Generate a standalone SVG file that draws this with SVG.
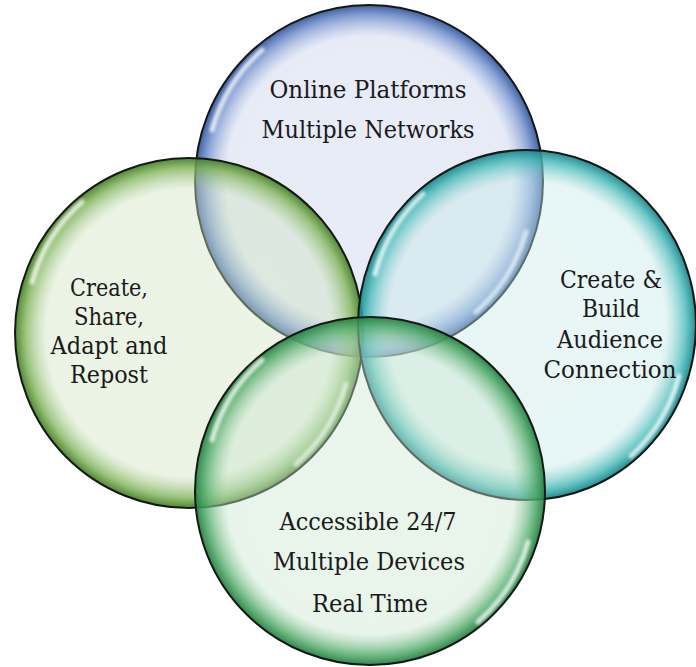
<svg xmlns="http://www.w3.org/2000/svg" width="696" height="667" viewBox="0 0 696 667">
<defs>
<style>
.ring{stroke:#151815;stroke-width:2}
.hl{fill:none;stroke:#ffffff;stroke-width:5;stroke-linecap:round;opacity:0.75;filter:url(#blur)}
text{font-family:'DejaVu Serif','Liberation Serif',serif;font-size:25px;fill:#1a1a1a;text-anchor:middle}
</style>
<filter id="blur" x="-20%" y="-20%" width="140%" height="140%"><feGaussianBlur stdDeviation="1.6"/></filter>
<radialGradient id="gBlue" cx="50%" cy="50%" r="50%">
<stop offset="0" stop-color="#c5d0ea" stop-opacity="0.4"/>
<stop offset="0.82" stop-color="#c5d0ea" stop-opacity="0.42"/>
<stop offset="0.94" stop-color="#6a8acb" stop-opacity="0.8"/>
<stop offset="1" stop-color="#34579a" stop-opacity="0.95"/>
</radialGradient>
<radialGradient id="gLeft" cx="50%" cy="50%" r="50%">
<stop offset="0" stop-color="#cfe3c0" stop-opacity="0.4"/>
<stop offset="0.82" stop-color="#cfe3c0" stop-opacity="0.42"/>
<stop offset="0.94" stop-color="#80b45a" stop-opacity="0.8"/>
<stop offset="1" stop-color="#467f28" stop-opacity="0.95"/>
</radialGradient>
<radialGradient id="gTeal" cx="50%" cy="50%" r="50%">
<stop offset="0" stop-color="#c5e8e8" stop-opacity="0.4"/>
<stop offset="0.82" stop-color="#c5e8e8" stop-opacity="0.42"/>
<stop offset="0.94" stop-color="#46bab8" stop-opacity="0.8"/>
<stop offset="1" stop-color="#1a858b" stop-opacity="0.95"/>
</radialGradient>
<radialGradient id="gBottom" cx="50%" cy="50%" r="50%">
<stop offset="0" stop-color="#cae6cf" stop-opacity="0.4"/>
<stop offset="0.82" stop-color="#cae6cf" stop-opacity="0.42"/>
<stop offset="0.94" stop-color="#52ac6b" stop-opacity="0.8"/>
<stop offset="1" stop-color="#267f42" stop-opacity="0.95"/>
</radialGradient>
</defs>
<rect width="696" height="667" fill="#ffffff"/>

<g id="node-online">
<ellipse class="ring" cx="369" cy="181" rx="174" ry="176" fill="url(#gBlue)"/>
<path class="hl" d="M 212 130 A 164 166 0 0 1 262 50"/>
<path class="hl" d="M 526 232 A 164 166 0 0 1 476 312"/>
<text x="368" y="98" textLength="197" lengthAdjust="spacingAndGlyphs">Online Platforms</text>
<text x="368" y="138" textLength="213" lengthAdjust="spacingAndGlyphs">Multiple Networks</text>
</g>

<g id="node-create">
<ellipse class="ring" cx="189" cy="333" rx="174" ry="175" fill="url(#gLeft)"/>
<path class="hl" d="M 32 282 A 164 165 0 0 1 82 202"/>
<path class="hl" d="M 346 384 A 164 165 0 0 1 296 464"/>
<text x="109" y="296" textLength="78" lengthAdjust="spacingAndGlyphs">Create,</text>
<text x="109" y="325" textLength="70" lengthAdjust="spacingAndGlyphs">Share,</text>
<text x="109" y="354" textLength="117" lengthAdjust="spacingAndGlyphs">Adapt and</text>
<text x="109" y="383" textLength="78" lengthAdjust="spacingAndGlyphs">Repost</text>
</g>

<g id="node-audience">
<ellipse class="ring" cx="527" cy="325" rx="169" ry="175" fill="url(#gTeal)"/>
<path class="hl" d="M 375 274 A 159 165 0 0 1 423 194"/>
<path class="hl" d="M 679 376 A 159 165 0 0 1 631 456"/>
<text x="611" y="288" textLength="102" lengthAdjust="spacingAndGlyphs">Create &amp;</text>
<text x="611" y="317" textLength="58" lengthAdjust="spacingAndGlyphs">Build</text>
<text x="610" y="348" textLength="106" lengthAdjust="spacingAndGlyphs">Audience</text>
<text x="610" y="378" textLength="133" lengthAdjust="spacingAndGlyphs">Connection</text>
</g>

<g id="node-accessible">
<ellipse class="ring" cx="370" cy="491" rx="175" ry="174" fill="url(#gBottom)"/>
<path class="hl" d="M 212 440 A 165 164 0 0 1 262 360"/>
<path class="hl" d="M 528 542 A 165 164 0 0 1 478 622"/>
<text x="368" y="530" textLength="177" lengthAdjust="spacingAndGlyphs">Accessible 24/7</text>
<text x="369" y="570" textLength="192" lengthAdjust="spacingAndGlyphs">Multiple Devices</text>
<text x="370" y="612" textLength="116" lengthAdjust="spacingAndGlyphs">Real Time</text>
</g>

<g id="connectors"></g>
</svg>
